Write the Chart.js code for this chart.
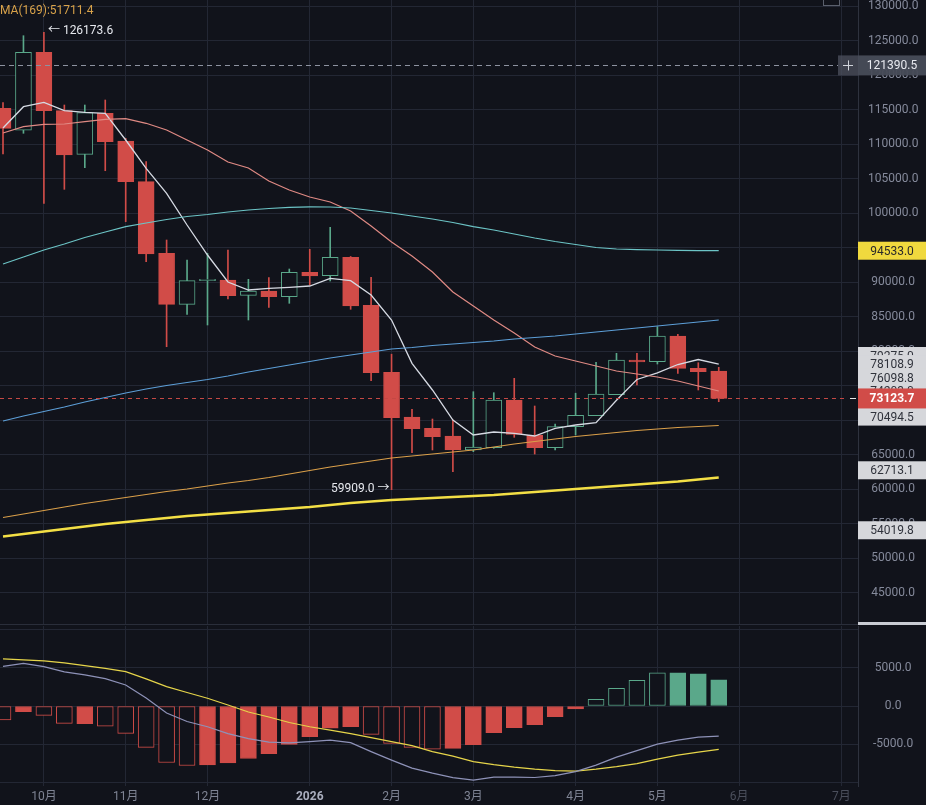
<!DOCTYPE html>
<html>
<head>
<meta charset="utf-8">
<script src="https://cdn.jsdelivr.net/npm/chart.js@4.4.1/dist/chart.umd.min.js"></script>
<style>
html,body{margin:0;padding:0;background:#11131b;overflow:hidden}
#wrap{position:relative;width:926px;height:805px}
#c1{position:absolute;left:0;top:0}
#c2{position:absolute;left:0;top:625px}
</style>
</head>
<body>
<div id="wrap">
  <canvas id="c1" width="926" height="625"></canvas>
  <canvas id="c2" width="926" height="180"></canvas>
</div>
<script>
// weekly candles, week start dates
const weeks = ['2025-09-22','2025-09-29','2025-10-06','2025-10-13','2025-10-20','2025-10-27','2025-11-03','2025-11-10','2025-11-17','2025-11-24',
  '2025-12-01','2025-12-08','2025-12-15','2025-12-22','2025-12-29','2026-01-05','2026-01-12','2026-01-19','2026-01-26','2026-02-02',
  '2026-02-09','2026-02-16','2026-02-23','2026-03-02','2026-03-09','2026-03-16','2026-03-23','2026-03-30','2026-04-06','2026-04-13',
  '2026-04-20','2026-04-27','2026-05-04','2026-05-11','2026-05-18','2026-05-25'];

const open  = [115174,112000,123290,114826,108500,114450,110435,104536,94159,86768,90200,90290,88072,88696,87870,91406,90913,93580,86623,76913,70435,68797,67681,65652,65985,72899,67826,65985,69029,70623,73667,78696,78449,82174,77493,77101];
const high  = [116000,125696,126173.6,115652,115652,116377,110826,107435,96087,93188,94159,94638,90391,90623,91884,94739,97928,93700,90681,79536,71551,70145,70000,74101,73957,76043,72029,69420,73884,78362,79667,79667,83522,82420,78304,77638];
const low   = [108551,111551,101400,103430,106570,106130,98740,92942,80623,85319,83768,87536,84493,86333,86913,89565,90145,86043,75696,59909,65261,65652,62507,65406,65898,67493,65072,65652,67826,70623,73667,75072,78116,76768,74348,72652];
const close = [112275,123290,114826,108406,114536,110333,104536,94058,86768,90188,90400,88014,88700,87870,91406,90870,93580,86522,76855,70333,68739,67580,65652,66087,72899,67928,65985,69029,70681,73768,78696,78406,82174,77493,77000,73123.7];

// moving averages
const maWhite  = [112319,115406,116043,114826,114594,114449,110580,106478,102855,98261,93913,90000,88841,89087,89232,89420,90536,90188,88116,84493,78217,74348,70000,67826,68261,68072,67681,68797,69275,69609,72870,75870,76826,78043,78768,78108.9];
const maPink   = [111594,112507,112855,112899,113232,113580,113667,113000,112029,110580,109130,107391,106522,104638,103333,102319,101594,100290,98116,95797,93768,91449,88551,86522,84493,82609,80580,79275,78551,77826,77101,76667,76232,75652,74928,74203];
const maTeal   = [92609,93623,94638,95507,96449,97246,98014,98551,99058,99493,99783,100145,100435,100652,100826,100899,100870,100725,100362,100000,99565,99130,98623,98014,97536,96957,96377,95870,95435,95000,94783,94700,94640,94590,94560,94533];
const maBlue   = [69855,70580,71232,71884,72609,73261,73913,74493,75000,75435,75870,76377,76957,77464,77971,78478,78986,79420,79855,80290,80507,80797,81014,81232,81449,81739,81957,82174,82464,82754,83043,83333,83623,83913,84203,84493];
const maOrange = [55870,56377,56884,57391,57899,58333,58768,59203,59638,60000,60435,60870,61232,61667,62174,62681,63188,63623,64058,64493,64783,65072,65362,65652,66087,66522,66884,67246,67609,67899,68188,68478,68696,68913,69058,69203];
const maYellow = [53116,53478,53841,54203,54565,54928,55217,55507,55797,56087,56304,56522,56739,56957,57174,57391,57681,57971,58188,58406,58551,58696,58841,58986,59130,59348,59565,59783,60000,60217,60435,60652,60870,61087,61377,61667];

// MACD
const macdHist = [-1842,-750,-1228,-2281,-2325,-2632,-3596,-5439,-7412,-7807,-7719,-7456,-6886,-6272,-5044,-4035,-2895,-2719,-3728,-4912,-5439,-5658,-5570,-5088,-3509,-2851,-2456,-1404,-395,877,2325,3377,4342,4342,4211,3421];
const histFilled = [false,true,false,false,true,false,false,false,false,false,true,true,true,true,true,true,true,true,false,false,false,false,true,true,true,true,true,true,true,false,false,false,false,true,true,true];
const macdDif = [5197,5592,5171,4474,4079,3592,2763,1053,-921,-2039,-2724,-3618,-4276,-4737,-4829,-4671,-4474,-4803,-5987,-7105,-8158,-8816,-9408,-9737,-9342,-9342,-9382,-9145,-8618,-7763,-6711,-5855,-5000,-4474,-4079,-3947];
const macdDea = [6184,6053,5921,5658,5303,4934,4513,3553,2539,1776,1013,132,-789,-1447,-2171,-2724,-3158,-3618,-4145,-4671,-5197,-5987,-6579,-7303,-7697,-8026,-8289,-8487,-8553,-8289,-7961,-7566,-6974,-6447,-6053,-5697];

// axis ticks
const monthTicks  = [2,6,10,15,19,23,28,32,36,41];
const monthLabels = ['10月','11月','12月','2026','2月','3月','4月','5月','6月','7月'];
const priceTicks  = [45000,50000,55000,60000,65000,70000,75000,80000,85000,90000,95000,100000,105000,110000,115000,120000,125000,130000];
const macdTicks   = [-10000,-5000,0,5000,10000];
const macdLabeled = [-5000,0,5000];

// price tags on the right
const refLine = 121390.5;
const tagYellow = 94533.0;
const tagStack = [79275, 78108.9, 76098.8, 74203, 70494.5];
const tagGrey = [62713.1, 54019.8];
const legendText = 'MA(169):51711.4';

const BG = '#11131b', RED = '#d14c48', GREEN = '#5aa88a', GRID = '#232734', TXT = '#858a9b';
const FONT = "Roboto, 'Noto Sans CJK SC', sans-serif";
const XMIN = -0.147, XMAX = 41.81;

const pts = arr => arr.map((v, i) => ({x: i, y: v}));
const isUp = i => close[i] >= open[i];
const candleCol = close.map((c, i) => isUp(i) ? GREEN : RED);

function line(data, color, w) {
  return {type: 'line', data: pts(data), borderColor: color, borderWidth: w, pointRadius: 0, tension: 0, order: 1};
}

const overlay = {
  id: 'overlay',
  afterDraw(chart) {
    const ctx = chart.ctx, ys = chart.scales.y, xs = chart.scales.x;
    const R = chart.chartArea.right, W = chart.width;
    const cx = R + (W - R) / 2;
    ctx.save();
    ctx.font = '12px ' + FONT;
    ctx.textBaseline = 'middle';

    // legend
    ctx.fillStyle = '#d8a24a';
    ctx.textAlign = 'left';
    ctx.fillText(legendText, 0, 11);

    // small icon top right
    ctx.strokeStyle = '#5a5f6c';
    ctx.lineWidth = 1;
    ctx.strokeRect(823.5, -4.5, 16, 10);

    // reference dashed line
    let y = ys.getPixelForValue(refLine);
    ctx.setLineDash([5, 4]);
    ctx.strokeStyle = '#8d92a0';
    ctx.beginPath(); ctx.moveTo(0, Math.round(y) + 0.5); ctx.lineTo(R - 20, Math.round(y) + 0.5); ctx.stroke();
    ctx.setLineDash([]);
    ctx.fillStyle = 'rgba(78,82,95,0.75)';
    ctx.fillRect(R - 20, y - 10, 20, 20);
    ctx.fillStyle = 'rgba(72,76,89,0.95)';
    ctx.fillRect(R, y - 10, W - R, 20);
    ctx.strokeStyle = '#d0d3da';
    ctx.beginPath();
    ctx.moveTo(R - 15, Math.round(y) + 0.5); ctx.lineTo(R - 5, Math.round(y) + 0.5);
    ctx.moveTo(R - 9.5, y - 5); ctx.lineTo(R - 9.5, y + 5);
    ctx.stroke();
    ctx.fillStyle = '#e8eaf0';
    ctx.textAlign = 'center';
    ctx.fillText(refLine.toFixed(1), cx, y + 1);

    // yellow tag
    y = ys.getPixelForValue(tagYellow);
    ctx.fillStyle = '#f0d93e';
    ctx.fillRect(R, y - 9, W - R, 18);
    ctx.fillStyle = '#2a2a2a';
    ctx.fillText(tagYellow.toFixed(1), cx, y + 1);

    // stacked grey tags
    tagStack.concat(tagGrey).forEach(v => {
      const ty = ys.getPixelForValue(v);
      ctx.fillStyle = '#d6d7db';
      ctx.fillRect(R, ty - 9, W - R, 18);
      ctx.fillStyle = '#30333c';
      ctx.fillText(v.toFixed(1), cx, ty + 1);
    });

    // last price line + tag
    const last = close[close.length - 1];
    y = ys.getPixelForValue(last);
    ctx.setLineDash([4, 4]);
    ctx.strokeStyle = '#c44844';
    ctx.beginPath(); ctx.moveTo(0, Math.round(y) + 0.5); ctx.lineTo(R - 10, Math.round(y) + 0.5); ctx.stroke();
    ctx.setLineDash([]);
    ctx.strokeStyle = '#e8e8e8';
    ctx.beginPath(); ctx.moveTo(R - 8, Math.round(y) + 0.5); ctx.lineTo(R - 2, Math.round(y) + 0.5); ctx.stroke();
    ctx.fillStyle = RED;
    ctx.fillRect(R, y - 10, W - R, 20);
    ctx.fillStyle = '#ffffff';
    ctx.font = 'bold 12px ' + FONT;
    ctx.fillText(last.toFixed(1), cx, y + 1);

    // high / low annotations
    ctx.font = '12px ' + FONT;
    ctx.fillStyle = '#e6e8ee';
    const hi = Math.max(...high), lo = Math.min(...low);
    const hiI = high.indexOf(hi), loI = low.indexOf(lo);
    ctx.textAlign = 'left';
    ctx.fillText('← ' + hi.toFixed(1), xs.getPixelForValue(hiI) + 4, ys.getPixelForValue(hi) - 1);
    ctx.textAlign = 'right';
    ctx.fillText(lo.toFixed(1) + ' →', xs.getPixelForValue(loI) - 2, ys.getPixelForValue(lo) - 1);

    // pane separator
    ctx.fillStyle = '#2a2e3a';
    ctx.fillRect(0, chart.height - 1, R, 1);
    ctx.fillStyle = '#c9ccd3';
    ctx.fillRect(R, chart.height - 3, W - R, 3);
    ctx.restore();
  }
};

new Chart(document.getElementById('c1'), {
  type: 'bar',
  data: {
    datasets: [
      line(maYellow, '#f3df45', 2.5),
      line(maOrange, '#dba04a', 1.2),
      line(maBlue, '#5d9fd8', 1.2),
      line(maTeal, '#6cc4c6', 1.2),
      line(maPink, '#e08a84', 1.2),
      line(maWhite, '#d6dae3', 1.3),
      {
        data: open.map((o, i) => ({x: i, y: [o, close[i]]})),
        backgroundColor: close.map((c, i) => isUp(i) ? BG : RED),
        borderColor: candleCol, borderWidth: 1, borderSkipped: false,
        barThickness: 16, grouped: false, order: 5
      },
      {
        data: low.map((l, i) => ({x: i, y: [l, high[i]]})),
        backgroundColor: candleCol, borderWidth: 0,
        barThickness: 1, grouped: false, order: 6
      }
    ]
  },
  options: {
    responsive: false, animation: false, events: [],
    layout: {padding: 0},
    plugins: {legend: {display: false}, tooltip: {enabled: false}},
    scales: {
      x: {
        type: 'linear', min: XMIN, max: XMAX, offset: false,
        afterBuildTicks: s => { s.ticks = monthTicks.map(v => ({value: v})); },
        ticks: {display: false, autoSkip: false},
        grid: {color: GRID, drawTicks: false, offset: false},
        border: {display: false},
        afterFit: s => { s.height = 0; }
      },
      y: {
        position: 'right', min: 40290, max: 130870,
        afterBuildTicks: s => { s.ticks = priceTicks.map(v => ({value: v})); },
        ticks: {autoSkip: false, color: TXT, font: {family: FONT, size: 12}, crossAlign: 'center', padding: 10,
          callback: v => Number(v).toFixed(1)},
        grid: {color: GRID, drawTicks: false},
        border: {color: '#2e323e'},
        afterFit: s => { s.width = 68; s.paddingTop = 0; s.paddingBottom = 0; }
      }
    }
  },
  plugins: [overlay]
});

new Chart(document.getElementById('c2'), {
  type: 'bar',
  data: {
    datasets: [
      {type: 'line', data: pts(macdDea), borderColor: '#e6d54a', borderWidth: 1.2, pointRadius: 0, tension: 0, order: 1},
      {type: 'line', data: pts(macdDif), borderColor: '#8e92b8', borderWidth: 1.2, pointRadius: 0, tension: 0, order: 0},
      {
        data: pts(macdHist),
        backgroundColor: macdHist.map((v, i) => histFilled[i] ? (v >= 0 ? GREEN : RED) : BG),
        borderColor: macdHist.map(v => v >= 0 ? GREEN : RED),
        borderWidth: 1, borderSkipped: false, barThickness: 16, grouped: false, order: 5
      }
    ]
  },
  options: {
    responsive: false, animation: false, events: [],
    layout: {padding: {top: 1}},
    plugins: {legend: {display: false}, tooltip: {enabled: false}},
    scales: {
      x: {
        type: 'linear', min: XMIN, max: XMAX, offset: false,
        afterBuildTicks: s => { s.ticks = monthTicks.map(v => ({value: v})); },
        ticks: {
          autoSkip: false, maxRotation: 0, padding: 4,
          callback: v => monthLabels[monthTicks.indexOf(v)],
          color: c => c.tick && c.tick.value === 15 ? '#a9adbd' : (c.tick && c.tick.value >= 36 ? '#4b4f5c' : '#7f8494'),
          font: c => ({family: FONT, size: 12, weight: c.tick && c.tick.value === 15 ? 'bold' : 'normal'})
        },
        grid: {color: GRID, drawTicks: false, offset: false},
        border: {display: false},
        afterFit: s => { s.height = 19; }
      },
      y: {
        position: 'right', min: -10500, max: 10500,
        afterBuildTicks: s => { s.ticks = macdTicks.map(v => ({value: v})); },
        ticks: {autoSkip: false, color: TXT, font: {family: FONT, size: 12}, crossAlign: 'center', padding: 15,
          callback: v => macdLabeled.includes(v) ? Number(v).toFixed(1) : ''},
        grid: {color: GRID, drawTicks: false},
        border: {color: '#2e323e'},
        afterFit: s => { s.width = 68; s.paddingTop = 0; s.paddingBottom = 0; }
      }
    }
  }
});
</script>
</body>
</html>
